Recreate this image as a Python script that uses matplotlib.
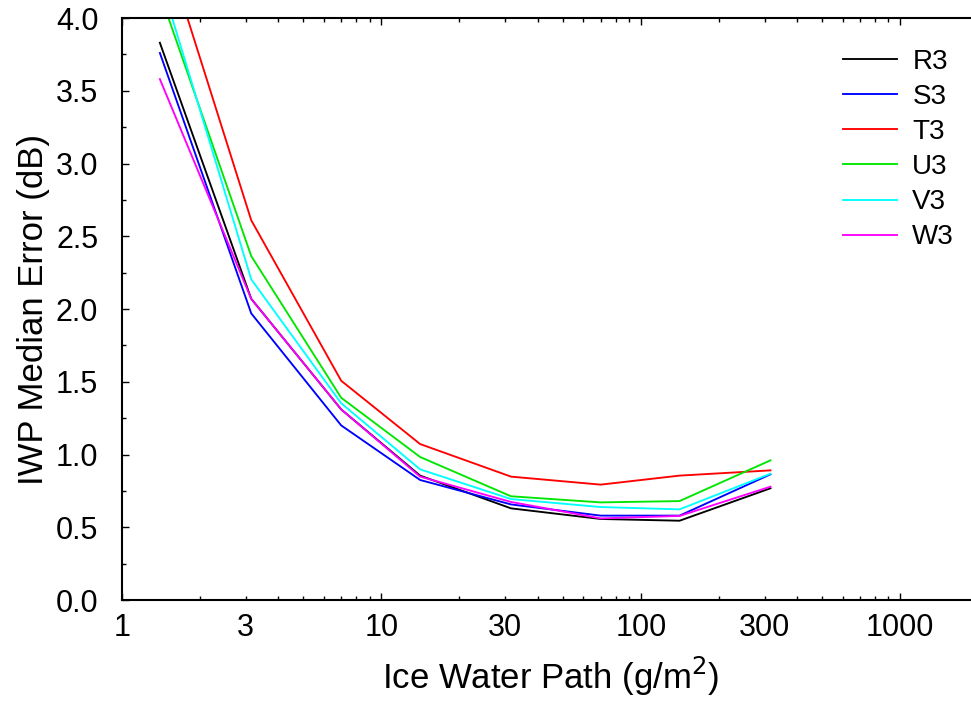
import numpy as np
import matplotlib

matplotlib.use("Agg")
import matplotlib.pyplot as plt
from matplotlib.ticker import FixedLocator, FixedFormatter

plt.rcParams["font.family"] = ["Liberation Sans", "DejaVu Sans"]

# bin centres of ice water path (g/m^2)
iwp = [1.4, 3.15, 7.0, 14.1, 31.6, 70.0, 141.0, 316.0]

labels = ["R3", "S3", "T3", "U3", "V3", "W3"]
colors = ["#000000", "#0000ff", "#ff0000", "#00e600", "#00ffff", "#ff00ff"]

r3 = [3.83, 2.07, 1.31, 0.855, 0.630, 0.557, 0.545, 0.768]
s3 = [3.76, 1.97, 1.20, 0.825, 0.657, 0.580, 0.580, 0.864]
t3 = [4.60, 2.61, 1.507, 1.072, 0.848, 0.793, 0.855, 0.891]
u3 = [4.17, 2.364, 1.390, 0.983, 0.713, 0.671, 0.680, 0.960]
v3 = [4.28, 2.204, 1.352, 0.898, 0.694, 0.639, 0.623, 0.868]
w3 = [3.58, 2.07, 1.31, 0.848, 0.674, 0.561, 0.578, 0.779]
series = [r3, s3, t3, u3, v3, w3]

fig = plt.figure(figsize=(9.71, 7.04), dpi=100)
ax = fig.add_axes([0.1256, 0.1477, 0.882, 0.8267])

for lab, col, ys in zip(labels, colors, series):
    ax.plot(iwp, ys, color=col, lw=1.35, label=lab)

ax.set_xscale("log")
ax.set_xlim(1, 2000)
ax.set_ylim(0, 4)

ax.xaxis.set_major_locator(FixedLocator([1, 10, 100, 1000]))
ax.xaxis.set_major_formatter(FixedFormatter(["1", "10", "100", "1000"]))
minors = [m * 10 ** e for e in range(0, 4) for m in range(2, 10)]
ax.xaxis.set_minor_locator(FixedLocator(minors))
ax.xaxis.set_minor_formatter(FixedFormatter(
    [str(int(v)) if str(int(v))[0] == "3" else "" for v in minors]))

ax.set_yticks(np.arange(0, 4.01, 0.5))
ax.set_yticklabels([f"{v:.1f}" for v in np.arange(0, 4.01, 0.5)])
ax.set_yticks(np.arange(0.25, 4.0, 0.5), minor=True)

ax.tick_params(which="both", direction="in", top=True, right=True,
               labelsize=22, width=1.0)
ax.tick_params(axis="x", which="both", pad=9)
ax.tick_params(axis="y", which="both", pad=17)
ax.tick_params(which="major", length=5)
ax.tick_params(which="minor", length=3)
for s in ax.spines.values():
    s.set_linewidth(1.5)

ax.set_xlabel("Ice Water Path (g/m$^2$)", fontsize=25, labelpad=9)
ax.set_ylabel("IWP Median Error (dB)", fontsize=25, labelpad=4)

ax.legend(loc="upper left", bbox_to_anchor=(0.868, 0.931),
          bbox_transform=fig.transFigure, frameon=False, fontsize=20,
          handlelength=1.95, handletextpad=0.55, labelspacing=0.33,
          borderpad=0, borderaxespad=0)

fig.savefig("out.png", dpi=100)
